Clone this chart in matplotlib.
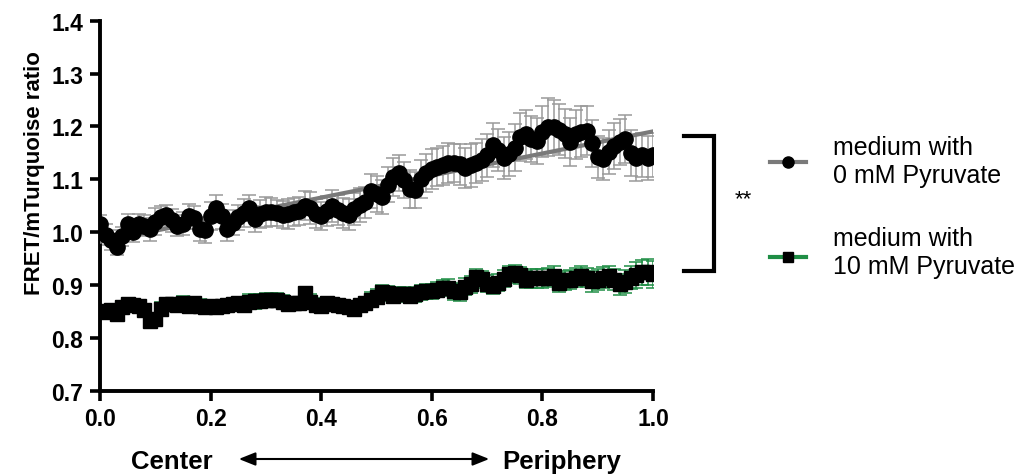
import numpy as np
import matplotlib
matplotlib.use("Agg")
import matplotlib.pyplot as plt
from matplotlib.lines import Line2D

plt.rcParams['font.family'] = ['Liberation Sans', 'DejaVu Sans']

x = np.round(np.arange(0, 1.0001, 0.01), 2)

pyr0 = [1.015, 0.995, 0.985, 0.972, 0.992, 1.015, 1.000, 1.015, 1.012, 1.005,
        1.020, 1.028, 1.032, 1.022, 1.012, 1.016, 1.030, 1.027, 1.005, 1.004,
        1.030, 1.045, 1.030, 1.005, 1.018, 1.028, 1.036, 1.046, 1.025, 1.034,
        1.038, 1.038, 1.036, 1.033, 1.034, 1.038, 1.040, 1.050, 1.045, 1.035,
        1.030, 1.040, 1.050, 1.042, 1.036, 1.033, 1.044, 1.052, 1.056, 1.078,
        1.072, 1.066, 1.090, 1.105, 1.112, 1.098, 1.082, 1.080, 1.100, 1.112,
        1.120, 1.124, 1.126, 1.130, 1.130, 1.128, 1.122, 1.126, 1.130, 1.136,
        1.145, 1.165, 1.155, 1.140, 1.148, 1.160, 1.180, 1.185, 1.176, 1.172,
        1.190, 1.199, 1.199, 1.194, 1.186, 1.170, 1.185, 1.190, 1.192, 1.168,
        1.142, 1.138, 1.152, 1.163, 1.170, 1.176, 1.150, 1.140, 1.146, 1.140,
        1.146]
pyr0_err = [0.018, 0.020, 0.018, 0.016, 0.018, 0.020, 0.018, 0.020, 0.020, 0.022,
            0.025, 0.022, 0.020, 0.022, 0.020, 0.022, 0.024, 0.022, 0.022, 0.024,
            0.026, 0.025, 0.024, 0.022, 0.024, 0.024, 0.026, 0.025, 0.024, 0.026,
            0.028, 0.026, 0.024, 0.026, 0.028, 0.026, 0.026, 0.028, 0.030, 0.028,
            0.026, 0.028, 0.030, 0.028, 0.028, 0.030, 0.030, 0.032, 0.030, 0.032,
            0.034, 0.032, 0.034, 0.036, 0.034, 0.034, 0.036, 0.034, 0.036, 0.036,
            0.038, 0.036, 0.036, 0.038, 0.036, 0.038, 0.038, 0.040, 0.038, 0.040,
            0.040, 0.042, 0.040, 0.040, 0.042, 0.044, 0.045, 0.046, 0.044, 0.044,
            0.048, 0.055, 0.050, 0.048, 0.046, 0.045, 0.046, 0.048, 0.046, 0.044,
            0.040, 0.040, 0.042, 0.044, 0.044, 0.045, 0.044, 0.044, 0.042, 0.042,
            0.042]

pyr10 = [0.850, 0.848, 0.852, 0.845, 0.858, 0.864, 0.862, 0.860, 0.852, 0.832,
         0.835, 0.855, 0.864, 0.864, 0.862, 0.865, 0.861, 0.865, 0.861, 0.858,
         0.860, 0.858, 0.860, 0.862, 0.864, 0.865, 0.862, 0.868, 0.869, 0.870,
         0.872, 0.872, 0.872, 0.868, 0.864, 0.865, 0.866, 0.884, 0.868, 0.862,
         0.861, 0.865, 0.864, 0.862, 0.860, 0.858, 0.855, 0.862, 0.866, 0.872,
         0.878, 0.886, 0.884, 0.879, 0.883, 0.882, 0.879, 0.882, 0.886, 0.888,
         0.888, 0.891, 0.895, 0.895, 0.888, 0.886, 0.897, 0.901, 0.915, 0.911,
         0.902, 0.898, 0.904, 0.912, 0.920, 0.922, 0.918, 0.910, 0.913, 0.913,
         0.913, 0.914, 0.917, 0.904, 0.909, 0.910, 0.914, 0.917, 0.914, 0.907,
         0.910, 0.914, 0.916, 0.910, 0.901, 0.906, 0.914, 0.919, 0.924, 0.925,
         0.920]
pyr10_err = [0.012, 0.012, 0.012, 0.012, 0.012, 0.012, 0.012, 0.012, 0.012, 0.012,
             0.012, 0.012, 0.012, 0.012, 0.012, 0.014, 0.014, 0.012, 0.012, 0.012,
             0.012, 0.012, 0.012, 0.012, 0.012, 0.012, 0.014, 0.014, 0.014, 0.012,
             0.012, 0.012, 0.012, 0.012, 0.012, 0.012, 0.012, 0.012, 0.014, 0.014,
             0.012, 0.012, 0.012, 0.012, 0.012, 0.012, 0.012, 0.012, 0.012, 0.014,
             0.014, 0.014, 0.014, 0.014, 0.014, 0.014, 0.014, 0.014, 0.014, 0.014,
             0.014, 0.014, 0.014, 0.016, 0.016, 0.016, 0.016, 0.016, 0.016, 0.016,
             0.016, 0.016, 0.016, 0.016, 0.016, 0.016, 0.016, 0.016, 0.018, 0.018,
             0.018, 0.018, 0.018, 0.018, 0.018, 0.018, 0.018, 0.018, 0.018, 0.020,
             0.020, 0.020, 0.020, 0.020, 0.020, 0.022, 0.022, 0.024, 0.024, 0.025,
             0.025]

x_ticks = [0.0, 0.2, 0.4, 0.6, 0.8, 1.0]
y_ticks = [0.7, 0.8, 0.9, 1.0, 1.1, 1.2, 1.3, 1.4]
labels = ["medium with\n0 mM Pyruvate", "medium with\n10 mM Pyruvate"]

GRAY = '#9a9a9a'
FITGRAY = '#7a7a7a'
GREEN = '#1f8e45'

fig = plt.figure(figsize=(10.27, 4.77), dpi=100)
ax = fig.add_axes([0.0974, 0.179, 0.5385, 0.7755])

# error bars
ax.errorbar(x, pyr0, yerr=pyr0_err, fmt='none', ecolor=GRAY, elinewidth=1.1,
            capsize=5, capthick=1.1, zorder=2)
ax.errorbar(x, pyr10, yerr=pyr10_err, fmt='none', ecolor=GREEN, elinewidth=1.1,
            capsize=5, capthick=1.1, zorder=2)

# linear fit for 0 mM
coef = np.polyfit(x, pyr0, 1)
ax.plot([0, 1], np.polyval(coef, [0, 1]), color=FITGRAY, lw=3, zorder=3)

ax.plot(x, pyr0, 'o-', color='black', lw=2, ms=11, mec='black', zorder=4)
ax.plot(x, pyr10, 's-', color='black', lw=2, ms=10, mec='black', zorder=4)

ax.set_xlim(0, 1.0)
ax.set_ylim(0.7, 1.4)
ax.set_xticks(x_ticks)
ax.set_xticklabels([f"{t:.1f}" for t in x_ticks])
ax.set_yticks(y_ticks)
ax.set_yticklabels([f"{t:.1f}" for t in y_ticks])
for s in ['top', 'right']:
    ax.spines[s].set_visible(False)
for s in ['left', 'bottom']:
    ax.spines[s].set_linewidth(2.8)
ax.tick_params(width=2.6, length=7, direction='out', labelsize=16.5, pad=5)
for lab in ax.get_xticklabels() + ax.get_yticklabels():
    lab.set_fontweight('bold')
ax.set_ylabel("FRET/mTurquoise ratio", fontsize=16, fontweight='bold')
ax.yaxis.set_label_coords(-0.099, 0.591)
ax.patch.set_alpha(0)

def fx(px):
    return px / 1027.0

def fy(py):
    return 1 - py / 477.0

# Center/Periphery annotation
fig.text(fx(172), fy(462), "Center", ha='center', va='center', fontsize=18.5, fontweight='bold')
fig.text(fx(562), fy(462), "Periphery", ha='center', va='center', fontsize=18.5, fontweight='bold')
fig.add_artist(matplotlib.patches.FancyArrowPatch(
    (fx(236), fy(460)), (fx(492), fy(460)), transform=fig.transFigure,
    arrowstyle='<|-|>,head_length=10,head_width=4', color='black', lw=1.5,
    mutation_scale=1))

# significance bracket
fig.add_artist(Line2D([fx(684), fx(714), fx(714), fx(684)],
                      [fy(137), fy(137), fy(272), fy(272)],
                      color='black', lw=3, solid_joinstyle='miter'))
fig.text(fx(743), fy(200), "**", ha='center', va='center', fontsize=16)

# legend
fig.add_artist(Line2D([fx(770), fx(806)], [fy(163), fy(163)], color=FITGRAY, lw=3))
fig.add_artist(Line2D([fx(788)], [fy(163)], marker='o', color='black', ms=8))
fig.add_artist(Line2D([fx(770), fx(806)], [fy(258), fy(258)], color=GREEN, lw=3))
fig.add_artist(Line2D([fx(788)], [fy(258)], marker='s', color='black', ms=7.5))
fig.text(fx(833), fy(162), labels[0], ha='left', va='center', fontsize=18, linespacing=1.2)
fig.text(fx(833), fy(253), labels[1], ha='left', va='center', fontsize=18, linespacing=1.2)

fig.savefig("out.png", dpi=100, facecolor='white')
